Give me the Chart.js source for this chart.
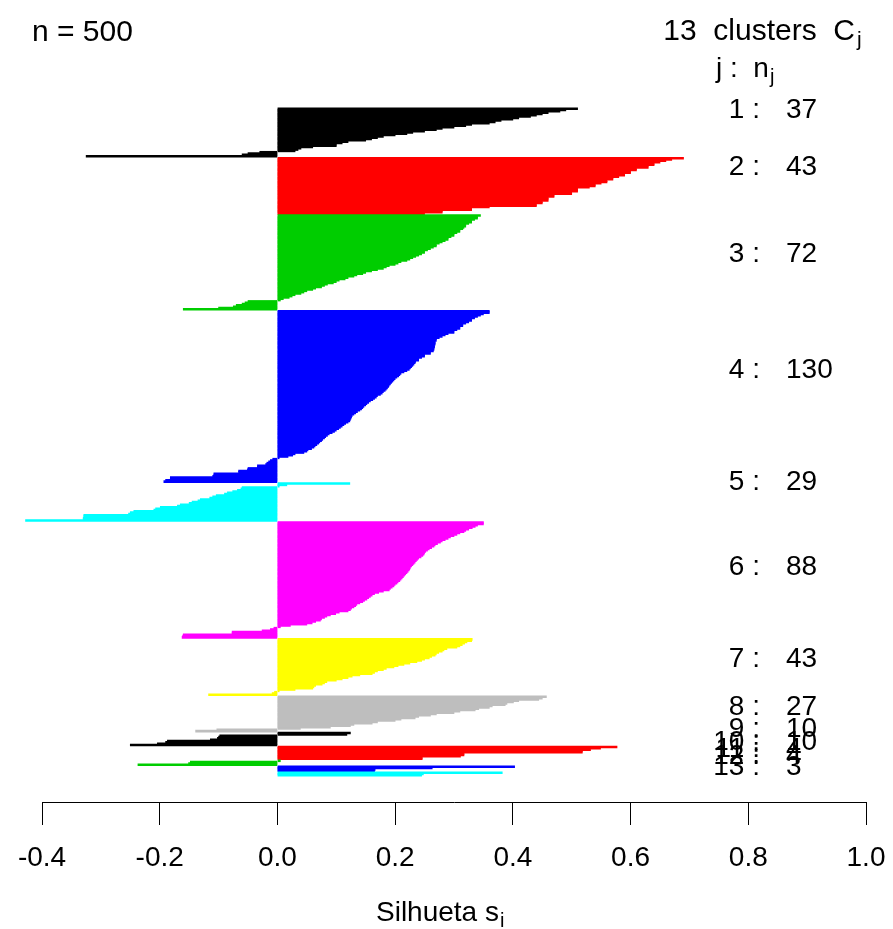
<!DOCTYPE html>
<html><head><meta charset="utf-8">
<script src="https://cdn.jsdelivr.net/npm/chart.js@4.4.1/dist/chart.umd.min.js"></script>
<style>html,body{margin:0;padding:0;background:#fff;}#wrap{width:893px;height:929px;position:relative;}</style>
</head><body><div id="wrap"><canvas id="c" width="893" height="929"></canvas></div>
<script>
// ---- data: silhouette widths per cluster (sorted within cluster)
const clusterIds = [1,2,3,4,5,6,7,8,9,10,11,12,13];
const s1 = [0.51,0.49,0.48,0.46,0.45,0.44,0.43,0.41,0.40,0.38,0.37,0.36,0.33,0.32,0.30,0.28,0.27,0.25,0.23,0.22,0.20,0.18,0.17,0.16,0.15,0.12,0.11,0.10,0.10,0.06,0.04,0.035,0.03,-0.03,-0.05,-0.06,-0.325];
const s2 = [0.69,0.67,0.66,0.65,0.64,0.64,0.63,0.63,0.61,0.61,0.60,0.60,0.59,0.59,0.58,0.57,0.57,0.56,0.56,0.55,0.54,0.54,0.53,0.51,0.51,0.51,0.50,0.50,0.47,0.47,0.46,0.46,0.46,0.45,0.45,0.44,0.44,0.36,0.33,0.33,0.28,0.28,0.25];
const s3 = [0.345,0.34,0.34,0.335,0.33,0.33,0.325,0.32,0.32,0.317,0.315,0.31,0.31,0.305,0.30,0.30,0.295,0.29,0.29,0.285,0.28,0.275,0.27,0.27,0.265,0.26,0.255,0.25,0.25,0.245,0.24,0.235,0.23,0.225,0.22,0.21,0.205,0.20,0.19,0.185,0.18,0.17,0.16,0.15,0.145,0.135,0.13,0.12,0.115,0.105,0.10,0.095,0.085,0.08,0.075,0.065,0.06,0.05,0.045,0.04,0.03,0.025,0.02,0.01,0.005,-0.05,-0.055,-0.06,-0.07,-0.075,-0.10,-0.16];
const s4 = [0.36,0.36,0.35,0.345,0.34,0.335,0.33,0.33,0.325,0.32,0.315,0.315,0.31,0.31,0.305,0.30,0.30,0.29,0.285,0.28,0.275,0.27,0.27,0.268,0.268,0.268,0.267,0.267,0.266,0.266,0.265,0.26,0.26,0.25,0.25,0.245,0.24,0.24,0.235,0.234,0.232,0.23,0.228,0.226,0.224,0.22,0.215,0.21,0.208,0.206,0.203,0.2,0.198,0.196,0.194,0.192,0.19,0.189,0.187,0.185,0.183,0.18,0.178,0.175,0.17,0.168,0.165,0.162,0.158,0.155,0.152,0.15,0.147,0.145,0.143,0.14,0.136,0.133,0.13,0.127,0.126,0.125,0.124,0.123,0.12,0.116,0.113,0.11,0.107,0.104,0.1,0.097,0.093,0.088,0.085,0.082,0.08,0.077,0.075,0.072,0.07,0.067,0.064,0.062,0.058,0.052,0.05,0.045,0.03,0.026,0.018,0.003,-0.008,-0.012,-0.015,-0.018,-0.02,-0.034,-0.034,-0.05,-0.051,-0.066,-0.066,-0.108,-0.108,-0.11,-0.182,-0.182,-0.19,-0.193];
const s5 = [0.123,0.016,0.003,-0.060,-0.062,-0.068,-0.076,-0.085,-0.09,-0.104,-0.110,-0.115,-0.131,-0.135,-0.145,-0.15,-0.165,-0.17,-0.199,-0.207,-0.21,-0.244,-0.25,-0.253,-0.329,-0.329,-0.33,-0.33,-0.428];
const s6 = [0.35,0.35,0.34,0.336,0.331,0.325,0.32,0.317,0.31,0.305,0.30,0.294,0.29,0.285,0.28,0.277,0.272,0.268,0.266,0.262,0.258,0.255,0.252,0.25,0.249,0.247,0.244,0.24,0.238,0.236,0.234,0.232,0.23,0.228,0.226,0.225,0.224,0.222,0.22,0.218,0.216,0.214,0.212,0.21,0.208,0.205,0.203,0.2,0.198,0.195,0.192,0.19,0.18,0.172,0.165,0.161,0.158,0.155,0.152,0.148,0.145,0.14,0.135,0.133,0.13,0.126,0.124,0.12,0.105,0.099,0.09,0.084,0.08,0.075,0.073,0.065,0.059,0.05,0.022,0.005,-0.006,-0.012,-0.026,-0.077,-0.077,-0.16,-0.161,-0.162];
const s7 = [0.331,0.33,0.322,0.318,0.314,0.31,0.305,0.288,0.283,0.28,0.274,0.27,0.268,0.262,0.258,0.25,0.245,0.237,0.225,0.215,0.205,0.198,0.185,0.18,0.17,0.165,0.161,0.14,0.127,0.12,0.11,0.1,0.084,0.08,0.076,0.065,0.062,0.06,0.03,0.003,-0.005,-0.009,-0.117];
const s8 = [0.457,0.45,0.444,0.41,0.401,0.39,0.387,0.365,0.36,0.342,0.336,0.31,0.3,0.27,0.26,0.24,0.234,0.21,0.2,0.17,0.161,0.13,0.124,0.09,0.039,-0.103,-0.139];
const s9 = [0.124,0.118,-0.098,-0.1,-0.102,-0.114,-0.187,-0.19,-0.204,-0.25];
const s10 = [0.577,0.549,0.532,0.518,0.518,0.317,0.317,0.311,0.246,0.246];
const s11 = [0.005,-0.148,-0.151,-0.237];
const s12 = [0.403,0.263,0.166,0.165];
const s13 = [0.382,0.248,0.245];
const silhouettes = [s1,s2,s3,s4,s5,s6,s7,s8,s9,s10,s11,s12,s13];
const xTickValues = [-0.4,-0.2,0.0,0.2,0.4,0.6,0.8,1.0];

// ---- styling / layout (not data)
const palette = ['#000000','#FF0000','#00CD00','#0000FF','#00FFFF','#FF00FF','#FFFF00','#BEBEBE'];
const labelUnits = [0,43.2,109,197,281.8,346.2,415.8,452.2,468.9,478.7,484,489.3,497.6];
const FONT = '"Liberation Sans", Arial, Helvetica, sans-serif';

const points = [], colors = [];
let idx = 0;
silhouettes.forEach((arr, c) => {
  arr.forEach(v => {
    points.push({x: v, y: idx + 0.5 + 0.5 * c});
    colors.push(palette[c % palette.length]);
    idx++;
  });
});
const total = idx;
const span = total + 0.5 * (silhouettes.length - 1);
const yMax = span * (694 / 668);

const textPlugin = {
  id: 'rtext',
  afterDraw(chart) {
    const ctx = chart.ctx, ys = chart.scales.y;
    ctx.save();
    ctx.fillStyle = '#000';
    ctx.textBaseline = 'alphabetic';
    ctx.font = '30px ' + FONT;
    ctx.textAlign = 'left';
    ctx.fillText('n = ' + total, 32, 41);
    ctx.textAlign = 'right';
    ctx.fillText(silhouettes.length + '  clusters  C', 855, 40);
    ctx.font = '21px ' + FONT;
    ctx.textAlign = 'left';
    ctx.fillText('j', 857, 46);
    ctx.font = '28px ' + FONT;
    const hdr = 'j :  n';
    ctx.fillText(hdr, 716, 77);
    const hw = ctx.measureText(hdr).width;
    ctx.font = '20px ' + FONT;
    ctx.fillText('j', 716 + hw + 1, 83);
    ctx.font = '28px ' + FONT;
    silhouettes.forEach((arr, c) => {
      const y = ys.getPixelForValue(labelUnits[c]) + 10;
      ctx.textAlign = 'right';
      ctx.fillText(clusterIds[c] + ' :', 760, y);
      ctx.textAlign = 'left';
      ctx.fillText(String(arr.length), 786, y);
    });
    ctx.font = '28px ' + FONT;
    ctx.textAlign = 'left';
    const t = 'Silhueta s';
    ctx.fillText(t, 376, 921);
    const tw = ctx.measureText(t).width;
    ctx.font = '20px ' + FONT;
    ctx.fillText('i', 376 + tw + 1, 927);
    ctx.restore();
  }
};

new Chart(document.getElementById('c').getContext('2d'), {
  type: 'bar',
  data: {
    datasets: [{
      data: points,
      backgroundColor: colors,
      borderWidth: 0,
      barThickness: 1.9,
      clip: false
    }]
  },
  options: {
    indexAxis: 'y',
    responsive: false,
    animation: false,
    devicePixelRatio: 1,
    layout: {padding: {left: 42, right: 27, top: 108, bottom: 0}},
    plugins: {legend: {display: false}, tooltip: {enabled: false}, title: {display: false}},
    scales: {
      y: {type: 'linear', reverse: true, min: 0, max: yMax, display: false, offset: false},
      x: {
        type: 'linear', min: -0.4, max: 1.0, offset: false,
        afterBuildTicks: (s) => { s.ticks = xTickValues.map(v => ({value: v})); },
        afterFit: (s) => { s.height = 127; s.paddingLeft = 0; s.paddingRight = 0; },
        ticks: {
          color: '#000', padding: 16, maxRotation: 0, autoSkip: false,
          font: {family: FONT, size: 28},
          callback: (v) => Number(v).toFixed(1)
        },
        grid: {display: true, drawOnChartArea: false, drawTicks: true, tickLength: 23, color: '#000', lineWidth: 1},
        border: {display: true, color: '#000', width: 1}
      }
    }
  },
  plugins: [textPlugin]
});
</script></body></html>
